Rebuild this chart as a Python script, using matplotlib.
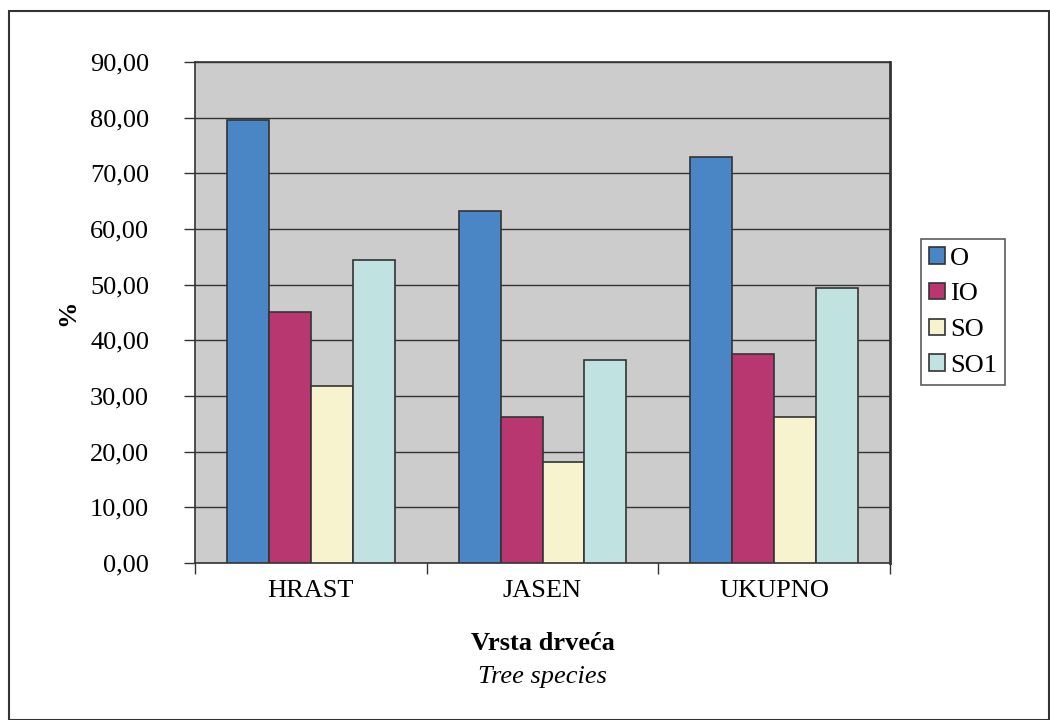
import matplotlib.pyplot as plt
import numpy as np
from matplotlib.patches import Rectangle
from matplotlib.ticker import FuncFormatter, FixedLocator

plt.rcParams['font.family'] = ['Liberation Serif', 'DejaVu Serif']

# podaci
vrste = ['HRAST', 'JASEN', 'UKUPNO']
serije = ['O', 'IO', 'SO', 'SO1']
O = [79.6, 63.2, 72.9]
IO = [45.1, 26.2, 37.5]
SO = [31.8, 18.1, 26.2]
SO1 = [54.4, 36.5, 49.4]
boje = ['#4A86C5', '#B83771', '#F7F3CF', '#C0E2E0']

fig = plt.figure(figsize=(10.5, 7.2), dpi=100)
ax = fig.add_axes([195/1050, 1 - 563/720, 695/1050, 501/720])
ax.set_facecolor('#CCCCCC')

x = np.arange(len(vrste))
w = 0.181
for i, (vals, c) in enumerate(zip([O, IO, SO, SO1], boje)):
    ax.bar(x + (i - 1.5) * w, vals, width=w, color=c, edgecolor='#333333',
           linewidth=1.2, label=serije[i], zorder=3)

ax.set_xlim(-0.5, 2.5)
ax.set_ylim(0, 90)
ax.yaxis.set_major_locator(FixedLocator(np.arange(0, 91, 10)))
ax.yaxis.set_major_formatter(FuncFormatter(lambda v, p: f'{v:.2f}'.replace('.', ',')))
ax.grid(axis='y', color='#333333', linewidth=1.0, zorder=1)
ax.tick_params(axis='y', length=8, width=1, color='#333333', labelsize=19, pad=25)

ax.set_xticks(x)
ax.set_xticklabels(vrste)
ax.tick_params(axis='x', which='major', length=0, labelsize=19, pad=12)
ax.set_xticks([-0.5, 0.5, 1.5, 2.5], minor=True)
ax.tick_params(axis='x', which='minor', length=8, width=1, color='#333333')

for s in ax.spines.values():
    s.set_color('#333333')
    s.set_linewidth(1.2)
ax.spines['right'].set_linewidth(2)

ax.set_ylabel('%', fontsize=19, fontweight='bold', labelpad=8)

leg = ax.legend(loc='center left', bbox_to_anchor=(921/1050, 1 - 312/720),
                bbox_transform=fig.transFigure, fontsize=19, frameon=True,
                fancybox=False, handlelength=0.6, handleheight=0.6,
                handletextpad=0.2, labelspacing=0.5, borderpad=0.3,
                borderaxespad=0)
leg.get_frame().set_edgecolor('#333333')
leg.get_frame().set_linewidth(1.2)

fig.text(0.5 * (195 + 890) / 1050, 1 - 643/720, 'Vrsta drveća', ha='center',
         va='center', fontsize=19, fontweight='bold')
fig.text(0.5 * (195 + 890) / 1050, 1 - 677/720, 'Tree species', ha='center',
         va='center', fontsize=19, style='italic')

# okvir oko slike
fig.patches.append(Rectangle((9/1050, 0), 1 - 9/1050 - 0.0005, 1 - 11/720,
                             transform=fig.transFigure, fill=False,
                             edgecolor='#333333', linewidth=1.5))

fig.savefig('out.png', dpi=100)
